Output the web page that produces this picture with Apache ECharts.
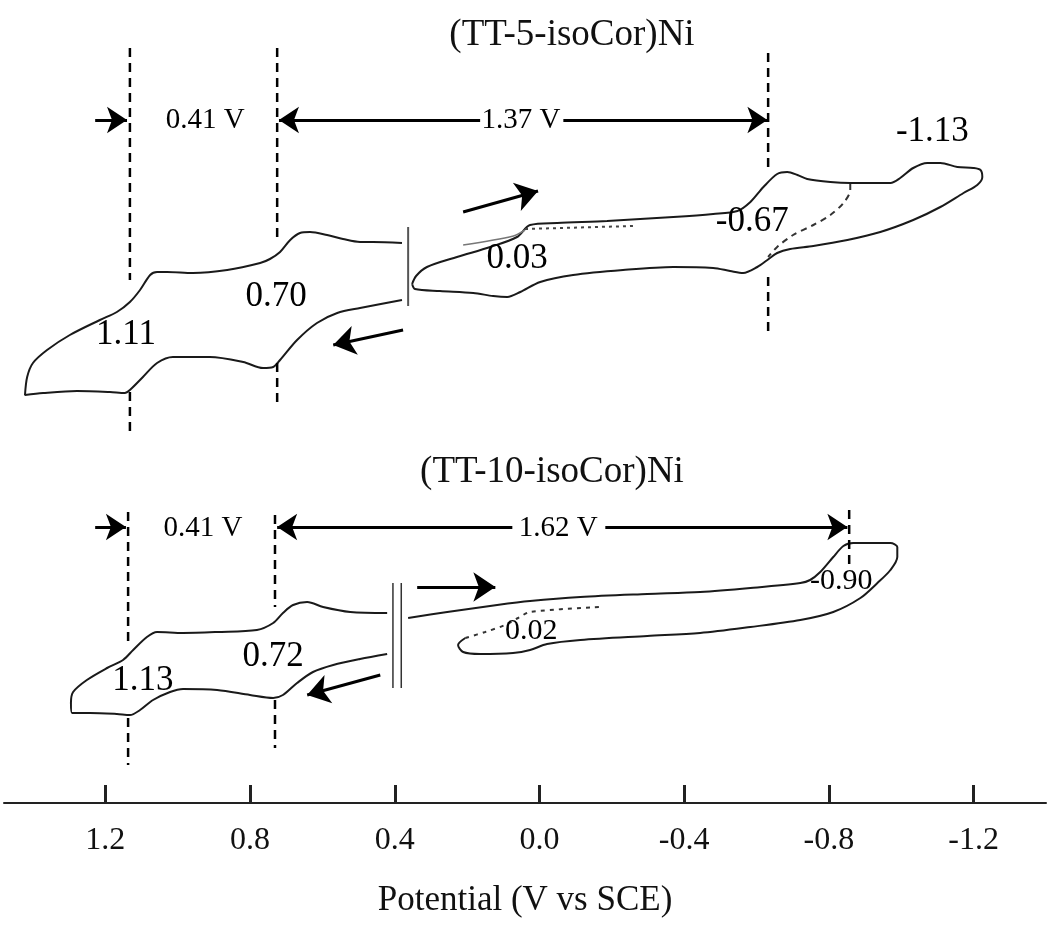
<!DOCTYPE html>
<html>
<head>
<meta charset="utf-8">
<title>Cyclic voltammograms of (TT-isoCor)Ni</title>
<script src="https://cdn.jsdelivr.net/npm/echarts@6.0.0/dist/echarts.min.js"></script>
<style>
  html, body { margin: 0; padding: 0; background: #fff; }
  #chart { width: 1050px; height: 932px; }
</style>
</head>
<body>
<div id="chart"></div>
<script>
// potential axis (V vs SCE), drawn high -> low
const tickValues = [1.2, 0.8, 0.4, 0.0, -0.4, -0.8, -1.2];
const tickLabels = ['1.2', '0.8', '0.4', '0.0', '-0.4', '-0.8', '-1.2'];

// (TT-5-isoCor)Ni : [potential V, current arb. units with offset]
const top5Anodic = [
  [0.380, 56.0], [0.460, 56.1], [0.496, 56.1], [0.543, 56.4], [0.587, 56.8], [0.634, 57.1],
  [0.662, 57.0], [0.689, 56.3], [0.717, 55.1], [0.745, 54.4], [0.772, 54.0], [0.863, 53.3],
  [0.958, 53.0], [1.029, 53.1], [1.057, 53.1], [1.076, 52.8], [1.104, 51.3], [1.132, 50.1],
  [1.168, 49.1], [1.215, 48.3], [1.298, 46.8], [1.361, 45.3], [1.400, 44.0], [1.416, 42.6],
  [1.422, 40.8], [1.372, 41.0], [1.278, 41.2], [1.187, 41.1], [1.146, 41.0], [1.132, 41.3],
  [1.096, 42.6], [1.057, 44.0], [1.013, 44.6], [0.911, 44.6], [0.819, 44.1], [0.764, 43.5],
  [0.736, 43.6], [0.717, 44.3], [0.670, 46.3], [0.615, 48.0], [0.559, 49.0], [0.496, 49.5],
  [0.380, 50.3]
];
const top5Cathodic = [
  [0.352, 51.9], [0.341, 52.7], [0.311, 53.6], [0.228, 54.6], [0.136, 55.6], [0.062, 56.6],
  [0.026, 57.8], [-0.049, 58.0], [-0.187, 58.2], [-0.370, 58.6], [-0.480, 58.9], [-0.547, 59.2],
  [-0.583, 60.1], [-0.619, 61.6], [-0.657, 62.9], [-0.685, 63.1], [-0.713, 62.8], [-0.740, 62.4],
  [-0.804, 62.1], [-0.859, 62.0], [-0.942, 62.0], [-0.970, 62.0], [-0.997, 62.5], [-1.033, 63.5],
  [-1.072, 64.0], [-1.108, 64.0], [-1.155, 63.6], [-1.199, 63.5], [-1.219, 63.3], [-1.224, 62.6],
  [-1.210, 61.8], [-1.172, 61.0], [-1.108, 59.6], [-1.033, 58.3], [-0.942, 57.1], [-0.851, 56.3],
  [-0.757, 55.7], [-0.693, 55.4], [-0.657, 55.0], [-0.630, 54.3], [-0.602, 53.6], [-0.563, 53.0],
  [-0.527, 53.2], [-0.480, 53.5], [-0.370, 53.6], [-0.231, 53.3], [-0.093, 52.8], [-0.002, 52.1],
  [0.053, 51.1], [0.089, 50.6], [0.128, 50.7], [0.183, 51.0], [0.275, 51.2], [0.344, 51.4],
  [0.352, 51.9]
];
const top5Reverse = [
  [-0.859, 61.9], [-0.859, 61.3], [-0.840, 60.0], [-0.804, 58.8], [-0.757, 57.8],
  [-0.701, 56.8], [-0.657, 55.6], [-0.632, 54.6]
];
const top5Dotted = [[0.040, 57.4], [-0.259, 57.7]];
const top5Faint = [[0.211, 55.8], [0.072, 56.7], [0.040, 57.3]];
const top5Break = [[0.363, 57.6], [0.363, 49.7]];

// (TT-10-isoCor)Ni
const bot10Anodic = [
  [0.421, 19.0], [0.523, 19.1], [0.598, 19.6], [0.642, 20.1], [0.681, 19.8], [0.709, 19.0],
  [0.736, 18.0], [0.781, 17.3], [0.891, 17.1], [0.985, 17.0], [1.057, 17.1], [1.085, 16.6],
  [1.123, 15.3], [1.151, 14.3], [1.195, 13.5], [1.251, 12.3], [1.289, 11.1], [1.295, 10.0],
  [1.292, 9.0], [1.242, 9.0], [1.168, 8.9], [1.132, 8.8], [1.104, 9.3], [1.068, 10.3],
  [1.021, 11.1], [0.985, 11.4], [0.891, 11.3], [0.800, 10.8], [0.736, 10.5], [0.709, 10.8],
  [0.670, 12.0], [0.626, 13.1], [0.570, 13.8], [0.496, 14.4], [0.421, 14.9]
];
const bot10Cathodic = [
  [0.363, 18.5], [0.255, 19.1], [0.117, 19.8], [0.026, 20.2], [-0.113, 20.6], [-0.298, 20.9],
  [-0.444, 21.1], [-0.583, 21.5], [-0.721, 22.0], [-0.748, 22.3], [-0.776, 23.1], [-0.812, 24.6],
  [-0.840, 25.7], [-0.867, 26.0], [-0.923, 26.0], [-0.970, 26.0], [-0.989, 25.6], [-0.989, 24.6],
  [-0.970, 23.3], [-0.934, 22.0], [-0.887, 20.5], [-0.812, 19.1], [-0.721, 18.3], [-0.583, 17.6],
  [-0.444, 17.0], [-0.298, 16.7], [-0.113, 16.3], [-0.021, 15.9], [0.026, 15.3], [0.073, 15.0],
  [0.164, 14.9], [0.211, 15.1], [0.225, 15.8], [0.205, 16.5]
];
const bot10Dotted = [[0.205, 16.5], [0.150, 17.1], [0.095, 17.8], [0.059, 18.5], [0.026, 19.1], [-0.168, 19.6]];
const bot10Breaks = [
  [[0.405, 22.0], [0.405, 11.5]],
  [[0.382, 22.0], [0.382, 11.5]]
];

// dashed peak guides: potential, then [from, to] current spans
const guideV = [1.132, 0.725, -0.632, 1.137, 0.731, -0.856];
const guideSpans = [
  [[75.5, 52.3], [41.1, 37.0]],
  [[75.5, 56.3], [44.0, 39.8]],
  [[75.0, 63.0], [52.6, 47.0]],
  [[29.1, 16.0], [8.5, 3.8]],
  [[28.8, 19.6], [10.3, 5.5]],
  [[29.3, 23.6]]
];

// separation arrows and scan direction arrows: [start, tip]
const rangeArrows = [
  [[1.228, 68.3], [1.140, 68.3]],
  [[0.164, 68.3], [0.720, 68.3]],
  [[-0.066, 68.3], [-0.630, 68.3]],
  [[1.228, 27.6], [1.143, 27.6]],
  [[0.075, 27.6], [0.725, 27.6]],
  [[-0.182, 27.6], [-0.851, 27.6]]
];
const scanArrows = [
  [[0.211, 59.1], [0.004, 61.2]],
  [[0.377, 47.3], [0.570, 45.8]],
  [[0.338, 21.6], [0.122, 21.6]],
  [[0.440, 12.8], [0.642, 10.8]]
];

// text annotations: [text, potential, current]
const rangeText = [
  ['0.41 V', 0.924, 68.3], ['1.37 V', 0.051, 68.3],
  ['0.41 V', 0.930, 27.5], ['1.62 V', -0.052, 27.5]
];
const peakText = [
  ['-1.13', -1.086, 67.1], ['-0.67', -0.588, 58.1], ['0.03', 0.062, 54.4],
  ['0.70', 0.728, 50.6], ['1.11', 1.143, 46.8],
  ['0.72', 0.736, 14.6], ['1.13', 1.096, 12.2]
];
const smallPeakText = [['0.02', 0.023, 17.2], ['-0.90', -0.834, 22.2]];
const panelTitles = ['(TT-5-isoCor)Ni', '(TT-10-isoCor)Ni'];

const serif = '"Liberation Serif", "Times New Roman", serif';
const ink = '#1a1a1a';

function curve(data, style) {
  return {
    type: 'line',
    data: data,
    showSymbol: false,
    smooth: style.smooth || 0,
    silent: true,
    lineStyle: Object.assign({ color: ink, width: 2 }, style.line || {}),
    z: 3
  };
}

function textSeries(items, size) {
  return {
    type: 'scatter',
    data: items.map(t => ({ name: t[0], value: [t[1], t[2]] })),
    symbolSize: 1,
    itemStyle: { color: 'transparent', opacity: 1 },
    silent: true,
    z: 5,
    label: {
      show: true,
      position: 'inside',
      formatter: p => p.name,
      color: '#000',
      opacity: 1,
      textBorderWidth: 0,
      fontFamily: serif,
      fontSize: size
    }
  };
}

function arrowSeries(list, size) {
  return {
    type: 'line',
    data: [],
    silent: true,
    markLine: {
      silent: true,
      animation: false,
      symbolSize: size,
      label: { show: false },
      lineStyle: { color: '#000', width: 3, type: 'solid' },
      emphasis: { disabled: true },
      data: list.map(a => [
        { coord: a[0], symbol: 'none' },
        { coord: a[1], symbol: 'arrow' }
      ])
    }
  };
}

const series = [
  curve(top5Anodic, { smooth: 0.3 }),
  curve(top5Cathodic, { smooth: 0.3 }),
  curve(top5Reverse, { smooth: 0.3, line: { type: [6, 5], color: '#333' } }),
  curve(top5Dotted, { line: { type: [3, 4], color: '#444' } }),
  curve(top5Faint, { smooth: 0.3, line: { color: '#777', width: 1.5 } }),
  curve(top5Break, { line: { color: '#555', width: 2 } }),
  curve(bot10Anodic, { smooth: 0.3 }),
  curve(bot10Cathodic, { smooth: 0.3 }),
  curve(bot10Dotted, { smooth: 0.3, line: { type: [4, 5], color: '#333' } })
];
bot10Breaks.forEach(b => series.push(curve(b, { line: { color: '#333', width: 1.5 } })));

guideV.forEach((v, i) => {
  guideSpans[i].forEach(span => {
    series.push(curve([[v, span[0]], [v, span[1]]], { line: { color: '#000', width: 2.5, type: [9, 6] } }));
  });
});

series.push(arrowSeries(rangeArrows, 20));
series.push(arrowSeries(scanArrows, 22));
series.push(textSeries(rangeText, 29));
series.push(textSeries(peakText, 35));
series.push(textSeries(smallPeakText, 30));

const chart = echarts.init(document.getElementById('chart'), null, { renderer: 'canvas' });
chart.setOption({
  animation: false,
  backgroundColor: '#ffffff',
  grid: { left: 4, right: 4, top: 3, bottom: 129, containLabel: false },
  xAxis: {
    type: 'value',
    inverse: true,
    min: -1.4,
    max: 1.48,
    name: 'Potential (V vs SCE)',
    nameLocation: 'middle',
    nameGap: 80,
    nameTextStyle: { fontFamily: serif, fontSize: 35, color: '#111' },
    axisLine: { show: true, lineStyle: { color: '#222', width: 2 } },
    axisTick: {
      show: true,
      inside: true,
      length: 18,
      customValues: tickValues,
      lineStyle: { color: '#222', width: 3 }
    },
    axisLabel: {
      show: true,
      margin: 22,
      customValues: tickValues,
      fontFamily: serif,
      fontSize: 32,
      color: '#111',
      formatter: v => {
        const i = tickValues.findIndex(t => Math.abs(t - v) < 1e-9);
        return i >= 0 ? tickLabels[i] : '';
      }
    },
    splitLine: { show: false }
  },
  yAxis: {
    type: 'value',
    min: 0,
    max: 80,
    show: false,
    splitLine: { show: false }
  },
  graphic: [
    {
      type: 'text', x: 572, y: 35, silent: true,
      style: { text: panelTitles[0], font: '37px ' + serif, fill: '#111', align: 'center', verticalAlign: 'middle' }
    },
    {
      type: 'text', x: 552, y: 472, silent: true,
      style: { text: panelTitles[1], font: '37px ' + serif, fill: '#111', align: 'center', verticalAlign: 'middle' }
    }
  ],
  series: series
});
</script>
</body>
</html>
